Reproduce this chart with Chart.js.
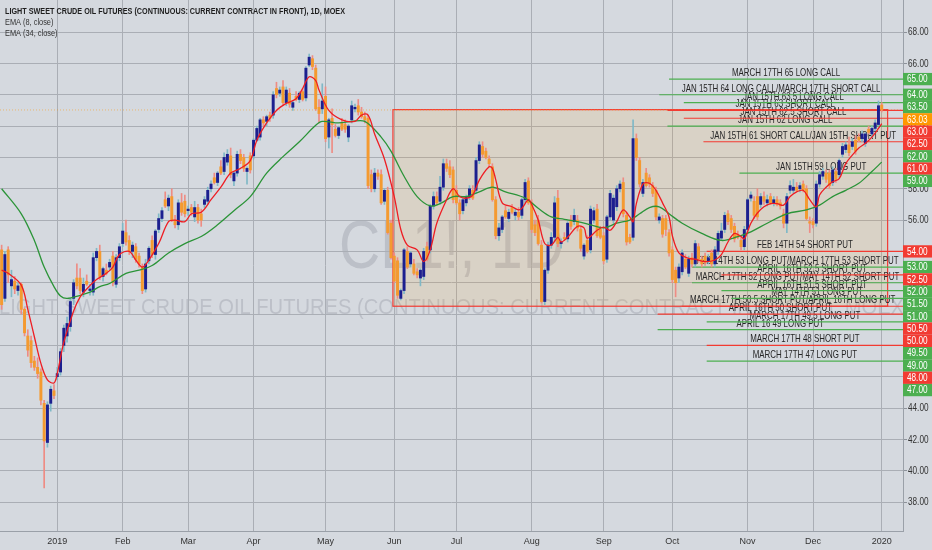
<!DOCTYPE html>
<html lang="en">
<head>
  <meta charset="UTF-8" />
  <title>CL1!, 1D</title>
  <script src="https://cdn.jsdelivr.net/npm/chart.js"></script>
  <style>
    html, body { margin: 0; padding: 0; background: #d5d9df; overflow: hidden; }
    #wrap { width: 932px; height: 550px; }
  </style>
</head>
<body>
<div id="wrap"><canvas id="chart" width="932" height="550"></canvas></div>
<script>
// daily bars, [open, high, low, close]
const candles = [
  [54.1,54.4,50.3,50.6],[51.0,54.0,50.8,53.8],[54.1,54.3,52.0,52.5],[51.8,52.8,51.1,52.2],[52.1,52.4,51.3,51.6],
  [51.5,52.0,51.2,51.8],[51.9,52.0,50.0,50.3],[50.3,50.4,48.6,48.8],[48.6,49.0,47.3,47.7],[48.3,48.6,46.6,46.9],
  [47.0,47.3,46.4,46.6],[46.6,47.2,45.9,46.2],[46.3,46.5,44.2,44.5],[44.3,44.5,38.9,41.9],[41.8,44.4,41.5,44.2],
  [44.3,45.4,43.8,45.2],[45.1,45.5,44.6,44.8],[46.0,46.6,45.8,46.2],[46.3,47.8,46.1,47.6],[48.0,49.3,47.6,49.1],
  [48.6,49.8,48.2,49.4],[49.2,51.0,48.9,50.8],[51.0,52.2,50.6,52.0],[52.3,53.2,51.6,51.8],[52.3,52.9,51.3,51.5],
  [51.4,52.3,51.1,51.9],[52.1,52.5,51.8,51.9],[51.5,51.9,51.2,51.6],[51.4,53.9,51.2,53.6],[53.6,54.2,53.4,54.0],
  [54.0,54.4,52.2,52.4],[52.4,53.0,52.1,52.9],[52.8,53.2,52.5,52.6],[53.0,53.5,52.8,53.3],[53.7,54.0,51.8,52.0],
  [51.9,53.8,51.7,53.6],[53.6,54.5,53.4,54.3],[54.5,55.8,54.3,55.3],[55.2,56.0,54.4,54.6],[54.7,55.0,53.8,54.0],
  [54.0,54.6,53.6,54.4],[54.3,54.5,53.3,53.5],[53.7,53.9,53.0,53.2],[53.0,53.2,51.3,51.5],[51.6,53.5,51.4,53.2],
  [53.4,54.3,53.2,54.2],[54.7,55.0,53.6,53.8],[53.8,55.4,53.5,55.3],[55.4,56.4,55.2,56.1],[56.1,56.8,55.9,56.6],
  [57.3,57.8,56.8,56.9],[56.9,57.6,56.6,57.4],[57.5,58.0,55.9,56.0],[56.0,56.3,55.5,55.7],[55.7,57.3,55.4,57.1],
  [57.1,57.7,56.3,56.5],[57.2,57.6,56.2,56.4],[56.6,56.9,56.3,56.7],[56.8,57.0,56.3,56.5],[56.2,57.2,55.9,56.8],
  [56.8,57.0,55.8,56.0],[56.4,56.7,55.6,56.0],[57.0,57.5,56.8,57.3],[57.2,58.1,57.0,57.9],[58.0,58.5,57.8,58.3],
  [58.7,59.0,58.3,58.4],[58.4,59.1,58.2,59.0],[59.4,59.8,58.9,59.0],[59.1,60.3,58.9,60.0],[59.7,60.5,59.5,60.2],
  [60.1,60.6,58.7,58.9],[58.5,59.1,58.2,59.0],[59.0,60.4,58.8,60.2],[60.2,60.5,59.6,59.8],[60.0,60.2,59.1,59.3],
  [59.1,59.4,58.3,59.3],[60.1,60.3,59.0,59.2],[60.1,61.2,59.9,61.1],[61.1,62.0,61.0,61.85],[61.3,62.5,61.1,62.4],
  [62.4,62.6,62.0,62.2],[62.3,62.7,62.0,62.6],[62.7,62.9,62.3,62.5],[62.7,64.2,62.5,64.0],[64.4,64.8,63.8,64.0],
  [64.1,64.5,63.9,64.3],[64.5,64.9,63.3,63.5],[63.5,64.5,63.3,64.3],[64.1,64.4,63.2,63.4],[63.2,63.6,63.0,63.5],
  [63.9,64.2,63.6,63.7],[63.7,64.2,63.5,64.1],[64.2,64.4,63.6,63.7],[63.8,65.8,63.6,65.7],[65.9,66.6,65.8,66.4],
  [66.3,66.5,65.6,65.8],[65.7,65.9,63.0,63.1],[63.2,63.7,62.2,62.8],[63.1,64.7,62.8,63.6],[63.9,64.5,61.0,61.2],
  [61.3,62.5,60.6,62.4],[62.5,63.1,60.3,62.1],[61.8,62.1,61.3,61.4],[61.4,62.0,61.2,61.9],[62.2,62.5,61.7,61.8],
  [62.1,62.4,61.6,61.8],[61.3,62.1,61.0,62.0],[62.4,63.6,62.2,63.3],[63.1,63.4,62.9,63.2],[63.3,63.7,62.7,62.9],
  [62.9,63.2,62.5,62.6],[62.6,62.9,62.2,62.4],[62.5,62.7,58.0,58.2],[58.9,59.2,57.8,58.0],[58.0,59.3,57.8,59.0],
  [59.0,59.2,58.6,58.8],[58.9,59.2,57.0,57.1],[57.2,58.0,57.0,57.9],[57.9,58.1,55.1,55.2],[55.8,56.0,53.5,53.6],
  [53.7,53.9,52.0,52.1],[53.4,53.6,51.0,51.2],[51.0,51.6,50.9,51.5],[51.5,54.2,51.3,54.1],[54.0,54.3,52.9,53.0],
  [53.2,54.0,53.0,53.9],[53.2,53.5,52.5,52.6],[52.7,52.9,52.3,52.5],[52.3,52.9,51.8,52.8],[52.4,54.2,52.2,54.0],
  [54.3,54.6,53.4,53.5],[54.1,57.0,53.9,56.9],[56.9,57.8,56.7,57.5],[57.5,57.8,57.0,57.1],[57.2,58.8,57.0,58.1],
  [58.1,59.9,57.9,59.6],[59.6,59.9,59.1,59.3],[59.4,59.8,58.7,58.9],[59.2,59.4,57.1,57.3],[57.9,58.2,57.0,57.1],
  [57.1,57.3,56.0,56.4],[56.6,57.4,56.4,57.3],[57.1,57.6,56.9,57.5],[57.5,58.2,57.3,58.0],[57.9,58.2,57.3,57.4],
  [57.9,60.0,57.7,59.8],[59.8,61.0,59.6,60.8],[60.7,61.0,60.0,60.2],[60.4,60.6,59.9,60.0],[59.9,60.1,59.4,59.6],
  [59.4,59.6,57.2,57.3],[57.3,57.5,54.8,55.0],[55.0,55.8,54.7,55.5],[55.4,56.3,55.2,56.2],[56.6,56.9,56.1,56.2],
  [56.1,56.7,55.9,56.5],[56.8,57.0,56.4,56.5],[56.3,56.7,56.0,56.5],[56.5,56.8,56.0,56.2],[56.3,57.4,56.1,57.3],
  [57.3,58.6,57.1,58.4],[58.5,58.7,57.0,57.1],[57.1,57.3,55.2,55.4],[55.7,56.0,55.0,55.2],[56.0,56.3,54.4,54.5],
  [54.4,54.7,50.7,50.8],[50.8,52.9,50.6,52.8],[52.8,54.6,52.6,54.4],[54.4,55.2,54.2,54.9],[54.9,57.5,54.6,57.1],
  [57.4,57.9,54.3,54.5],[54.5,54.8,54.2,54.6],[54.9,55.2,54.7,54.8],[54.8,55.9,54.6,55.8],[56.0,56.3,55.4,55.6],
  [55.9,56.7,55.7,56.3],[56.0,56.3,55.3,55.5],[55.4,55.6,54.0,54.2],[53.7,54.5,53.5,54.4],[54.7,55.0,53.9,54.0],
  [54.1,56.9,53.9,56.7],[56.0,56.8,55.8,56.6],[56.7,57.0,54.9,55.0],[55.4,55.6,54.8,54.9],[55.0,55.2,53.2,53.4],
  [53.5,56.3,53.3,56.2],[56.2,57.9,56.0,57.7],[56.0,57.6,55.8,57.4],[56.85,58.2,56.6,58.0],[58.0,58.5,57.8,58.3],
  [58.4,58.7,56.2,56.4],[56.3,56.5,54.4,54.6],[54.9,55.1,54.5,54.6],[54.9,62.4,54.7,61.2],[61.2,61.5,59.8,60.0],
  [59.8,60.0,58.1,58.3],[57.7,58.6,57.5,58.4],[59.0,59.3,58.1,58.2],[58.7,58.9,58.1,58.3],[58.2,58.4,57.5,57.7],
  [57.9,58.1,56.0,56.2],[56.0,56.4,55.8,56.2],[56.1,56.3,54.9,55.1],[56.1,56.3,55.0,55.4],[55.2,55.4,53.7,53.9],
  [54.1,54.3,52.0,52.2],[52.8,53.0,51.1,52.0],[52.3,53.2,52.0,53.0],[52.7,54.1,52.5,53.9],[53.5,53.8,52.9,53.0],
  [52.6,53.7,52.4,53.5],[53.6,53.9,53.0,53.2],[53.2,54.7,53.0,54.5],[54.3,54.5,53.3,53.5],[53.5,53.7,53.0,53.2],
  [53.7,53.9,53.1,53.3],[53.4,53.8,53.2,53.6],[53.9,54.1,53.0,53.2],[53.2,54.3,53.0,54.1],[54.0,55.3,53.8,55.15],
  [54.85,55.8,54.7,55.3],[55.4,56.5,55.2,56.3],[56.4,56.6,55.7,55.9],[56.1,56.3,55.2,55.4],[55.6,55.8,54.6,54.8],
  [55.1,55.3,54.8,54.9],[54.7,54.9,54.1,54.3],[54.3,55.6,54.1,55.4],[55.4,57.4,55.2,57.3],[57.4,57.8,57.2,57.6],
  [57.2,57.5,56.1,56.3],[57.5,58.0,56.0,56.2],[57.0,57.7,56.8,57.5],[57.5,57.8,57.0,57.2],[57.1,57.6,56.9,57.3],
  [57.5,57.7,57.0,57.1],[57.1,57.5,56.9,57.3],[57.3,57.5,56.9,57.0],[57.1,57.3,56.7,56.9],[56.4,56.7,55.5,55.8],
  [55.8,57.7,55.2,57.5],[57.9,58.5,57.7,58.2],[57.9,58.6,57.7,58.1],[58.1,58.4,57.8,57.9],[58.0,58.4,57.8,58.2],
  [58.3,58.5,57.8,57.9],[58.0,58.2,56.0,56.1],[55.9,56.2,55.2,55.8],[55.9,56.1,55.5,55.7],[55.8,58.5,55.6,58.3],
  [58.3,59.1,58.1,58.9],[58.8,59.3,58.6,59.1],[59.0,59.2,58.4,58.6],[59.0,59.2,58.0,58.2],[58.4,59.4,58.2,59.2],
  [59.1,59.3,58.4,58.6],[58.9,59.9,58.7,59.8],[60.2,60.9,60.0,60.7],[60.5,61.0,60.3,60.8],[60.8,61.3,60.1,60.3],
  [60.7,61.2,60.5,61.0],[61.1,61.4,60.2,60.4],[61.3,61.5,61.0,61.1],[61.2,61.7,61.0,61.5],[60.9,61.6,60.7,61.5],
  [61.8,62.0,61.5,61.6],[61.5,62.0,61.3,61.85],[61.85,62.4,61.7,62.2],[62.1,63.6,62.0,63.3],[63.35,63.5,62.9,63.03]
];

// EMA values, [bar, value]
const ema8 = [
  [0,52.8],[2,52.6],[6,51.85],[8,50.3],[10,48.55],[12,46.85],[14,45.8],[16,45.6],[17,46.2],[19,48.2],
  [22,50.2],[24,51.1],[26,51.6],[29,52.2],[32,52.6],[34,53.0],[36,53.8],[39,54.0],[41,53.45],[43,53.0],
  [45,53.45],[48,54.5],[51,55.9],[53,56.0],[56,55.9],[58,56.4],[61,56.5],[64,57.3],[67,58.1],[70,59.0],
  [73,59.3],[76,59.8],[78,61.1],[81,62.2],[84,63.0],[87,63.45],[90,63.75],[92,64.4],[94,65.15],[96,64.9],
  [97,64.3],[100,63.0],[104,62.4],[108,62.3],[110,62.7],[112,62.7],[114,61.5],[117,59.9],[120,57.5],[122,55.4],
  [124,54.4],[127,54.1],[129,53.35],[131,54.1],[133,55.8],[136,57.3],[138,58.0],[140,57.5],[142,57.4],[144,57.6],
  [146,58.55],[149,59.4],[150,59.3],[151,58.6],[153,57.1],[156,56.85],[158,56.65],[159,56.75],[161,57.3],[162,57.0],
  [164,56.0],[166,54.5],[168,54.4],[170,54.9],[171,54.6],[173,54.9],[176,55.6],[178,55.5],[179,54.85],[182,55.35],
  [184,55.55],[186,55.35],[188,55.9],[190,56.65],[192,56.2],[193,55.9],[194,57.05],[196,58.3],[198,58.35],[200,57.9],
  [202,57.1],[204,56.2],[205,55.0],[207,53.9],[210,53.55],[212,53.5],[215,53.35],[218,53.45],[220,53.8],[222,54.6],
  [224,55.15],[226,54.95],[227,54.8],[229,55.8],[231,56.45],[233,56.85],[235,57.05],[237,57.05],[239,56.95],[241,57.5],
  [243,57.8],[245,57.9],[247,57.3],[249,56.85],[250,57.6],[252,58.1],[254,58.45],[256,58.65],[258,59.6],[260,60.15],
  [262,60.6],[264,60.9],[266,61.3],[268,61.85],[269,62.15]
];
const ema34 = [
  [0,58.0],[6,56.4],[10,54.7],[13,53.0],[16,51.75],[18,51.15],[20,51.0],[24,51.2],[27,51.4],[30,51.75],
  [33,51.95],[38,52.6],[42,52.8],[46,53.1],[51,53.9],[56,54.5],[61,54.95],[66,55.7],[71,56.6],[76,57.5],
  [81,59.0],[86,60.05],[91,61.0],[96,62.05],[98,62.3],[103,62.2],[107,62.3],[111,62.3],[116,61.3],[119,60.4],
  [123,58.8],[127,57.5],[131,56.9],[134,57.05],[138,57.5],[142,57.5],[146,57.8],[150,58.1],[154,57.8],[160,57.4],
  [164,56.75],[168,56.2],[172,56.05],[176,55.9],[180,55.7],[184,55.5],[188,55.8],[192,56.0],[195,56.4],[198,56.8],
  [201,56.85],[204,56.4],[208,55.8],[214,55.15],[220,54.7],[225,54.95],[229,55.25],[234,55.8],[240,56.4],[246,56.65],
  [250,56.95],[254,57.5],[258,57.9],[262,58.35],[266,59.1],[269,59.7]
];

const monthTicks = [17, 37, 57, 77, 99, 120, 139, 162, 184, 205, 228, 248, 269];
const monthLabels = ['2019','Feb','Mar','Apr','May','Jun','Jul','Aug','Sep','Oct','Nov','Dec','2020'];
const priceTicks = [38,40,42,44,46,48,50,52,54,56,58,60,62,64,66,68];
const lastPrice = 63.03;

// option levels drawn as horizontal rays
const optPrices = [65, 64, 63.5, 63, 62.5, 62, 61, 59, 54, 53, 52.5, 52, 51.5, 51, 50.5, 50, 49.5, 49, 48, 47];
const optStarts = [204, 201, 208.5, 203.5, 208.5, 203.5, 214.5, 225.5, 215.5, 211, 220, 211, 220, 223, 208, 200.5, 215.5, 200.5, 215.5, 215.5];
const optColors = ['g','g','g','r','r','g','r','g','r','g','r','g','g','g','r','r','g','g','r','g'];
const optTexts = [
  'MARCH 17TH 65 LONG CALL',
  'JAN 15TH 64 LONG CALL/MARCH 17TH SHORT CALL',
  'JAN 15TH 63.5 LONG CALL',
  'JAN 15TH 63 SHORT CALL',
  'JAN 15TH 62.5 SHORT CALL',
  'JAN 15TH 62 LONG CALL',
  'JAN 15TH 61 SHORT CALL/JAN 15TH SHORT PUT',
  'JAN 15TH 59 LONG PUT',
  'FEB 14TH 54 SHORT PUT',
  'FEB 14TH 53 LONG PUT/MARCH 17TH 53 SHORT PUT',
  'APRIL 16TH 52.5 SHORT PUT',
  'MARCH 17TH 52 LONG PUT/MAY 14TH 52 SHORT PUT',
  'APRIL 16TH 51.5 SHORT PUT',
  'MAY 14TH 51 LONG PUT',
  'MARCH 17TH 50.5 SHORT PUT/APRIL 16TH LONG PUT',
  'APRIL 16TH 50 SHORT PUT',
  'MARCH 17TH 49.5 LONG PUT',
  'APRIL 16 49 LONG PUT',
  'MARCH 17TH 48 SHORT PUT',
  'MARCH 17TH 47 LONG PUT'
];

// the range box (bars and prices)
const rangeBars = [119.6, 270.8];
const rangePrices = [50.5, 63.05];

const UP = '#1c1f8f', DOWN = '#f49a30', UP_WICK = '#7fb8c6', DOWN_WICK = '#ee8c84';
const GREEN = '#4caf50', RED = '#f23b32', ORANGE = '#ff9800';
const GRID = '#aaaeb5';
const SANS = "'Liberation Sans', Arial, sans-serif";
const X_MAX = 275.5;

// condensed text: the screenshot's font is narrower than anything installed
function narrowText(ctx, text, x, y, font, sx, align) {
  ctx.save();
  ctx.font = font;
  ctx.textAlign = align || 'left';
  ctx.translate(x, y);
  ctx.scale(sx, 1);
  ctx.fillText(text, 0, 0);
  ctx.restore();
}

const datasets = [
  {
    type: 'line', label: 'EMA 8', data: ema8.map(p => ({ x: p[0], y: p[1] })),
    borderColor: '#ee1d23', borderWidth: 1.3, pointRadius: 0, tension: 0.35, order: -2
  },
  {
    type: 'line', label: 'EMA 34', data: ema34.map(p => ({ x: p[0], y: p[1] })),
    borderColor: '#2b9438', borderWidth: 1.3, pointRadius: 0, tension: 0.35, order: -1
  },
  {
    type: 'bar', label: 'body', data: candles.map((c, i) => ({ x: i, y: [c[0], c[3]] })),
    backgroundColor: candles.map(c => c[3] >= c[0] ? UP : DOWN),
    barThickness: 2.3, grouped: false, order: 0
  },
  {
    type: 'bar', label: 'wick', data: candles.map((c, i) => ({ x: i, y: [c[2], c[1]] })),
    backgroundColor: candles.map(c => c[3] >= c[0] ? UP_WICK : DOWN_WICK),
    barThickness: 1, grouped: false, order: 1
  }
];
optPrices.forEach((p, k) => {
  datasets.push({
    type: 'line', label: optTexts[k],
    data: [{ x: optStarts[k], y: p }, { x: X_MAX, y: p }],
    borderColor: optColors[k] === 'g' ? GREEN : RED, borderWidth: 1.2, pointRadius: 0, order: 5
  });
});
datasets.push({
  type: 'line', label: 'last',
  data: [{ x: -0.5, y: lastPrice }, { x: X_MAX, y: lastPrice }],
  borderColor: 'rgba(255,152,0,0.5)', borderDash: [1, 2], borderWidth: 1, pointRadius: 0, order: 6
});

const overlay = {
  id: 'overlay',
  beforeDraw(chart) {
    const { ctx, chartArea: a } = chart;
    const cx = (a.left + a.right) / 2;
    ctx.save();
    ctx.fillStyle = 'rgba(60,65,80,0.16)';
    ctx.textBaseline = 'middle';
    ctx.font = '68px ' + SANS;
    const big = 'CL1!, 1D';
    narrowText(ctx, big, cx, 249, '68px ' + SANS, 225 / ctx.measureText(big).width, 'center');
    const wm = 'LIGHT SWEET CRUDE OIL FUTURES (CONTINUOUS: CURRENT CONTRACT IN FRONT), MOEX';
    ctx.font = '22px ' + SANS;
    narrowText(ctx, wm, cx, 308, '22px ' + SANS, 905 / ctx.measureText(wm).width, 'center');
    ctx.restore();
  },
  beforeDatasetsDraw(chart) {
    const { ctx, chartArea: a, scales: { x, y } } = chart;
    ctx.save();
    ctx.beginPath();
    ctx.rect(a.left, a.top, a.right - a.left, a.bottom - a.top);
    ctx.clip();
    // range box
    const x0 = x.getPixelForValue(rangeBars[0]), x1 = x.getPixelForValue(rangeBars[1]);
    const y0 = y.getPixelForValue(rangePrices[1]), y1 = y.getPixelForValue(rangePrices[0]);
    ctx.fillStyle = 'rgba(255,152,0,0.11)';
    ctx.fillRect(x0, y0, x1 - x0, y1 - y0);
    ctx.strokeStyle = RED;
    ctx.lineWidth = 1.2;
    ctx.strokeRect(x0, y0, x1 - x0, y1 - y0);
    // level captions
    ctx.fillStyle = '#262626';
    ctx.textBaseline = 'bottom';
    optPrices.forEach((p, k) => {
      const sx = x.getPixelForValue(optStarts[k]);
      narrowText(ctx, optTexts[k], (sx + a.right) / 2, y.getPixelForValue(p) - 0.5, '11px ' + SANS, 0.72, 'center');
    });
    ctx.restore();
  },
  afterDatasetsDraw(chart) {
    // price scale labels, condensed like the source
    const { ctx, chartArea: a, scales: { y } } = chart;
    ctx.save();
    ctx.fillStyle = '#333';
    ctx.textBaseline = 'middle';
    y.ticks.forEach(t => {
      narrowText(ctx, t.value.toFixed(2), a.right + 5, y.getPixelForValue(t.value) + 0.5, '10px ' + SANS, 0.82);
    });
    ctx.restore();
  },
  afterDraw(chart) {
    const { ctx, chartArea: a, scales: { y } } = chart;
    ctx.save();
    // header
    ctx.textBaseline = 'alphabetic';
    ctx.fillStyle = '#1e1e1e';
    const title = 'LIGHT SWEET CRUDE OIL FUTURES (CONTINUOUS: CURRENT CONTRACT IN FRONT), 1D, MOEX';
    ctx.font = 'bold 9px ' + SANS;
    narrowText(ctx, title, 5, 14, 'bold 9px ' + SANS, 340 / ctx.measureText(title).width);
    ctx.fillStyle = '#333';
    narrowText(ctx, 'EMA (8, close)', 5, 25, '9px ' + SANS, 0.82);
    narrowText(ctx, 'EMA (34, close)', 5, 36, '9px ' + SANS, 0.82);
    // price labels on the axis, pushed apart when they collide
    const labels = optPrices.map((p, k) => ({ p, c: optColors[k] === 'g' ? GREEN : RED }));
    labels.push({ p: lastPrice, c: ORANGE });
    labels.sort((m, n) => n.p - m.p);
    const h = 12.3;
    let prev = -Infinity;
    ctx.textBaseline = 'middle';
    labels.forEach(l => {
      let cy = y.getPixelForValue(l.p);
      if (cy < prev + h) cy = prev + h;
      prev = cy;
      ctx.fillStyle = l.c;
      ctx.fillRect(a.right, cy - h / 2, chart.width - a.right, h);
      ctx.fillStyle = '#ffffff';
      narrowText(ctx, l.p.toFixed(2), a.right + 4, cy + 0.5, '10px ' + SANS, 0.82);
    });
    ctx.restore();
  }
};

new Chart(document.getElementById('chart'), {
  type: 'bar',
  data: { datasets },
  options: {
    responsive: false,
    animation: false,
    layout: { padding: 0 },
    plugins: { legend: { display: false }, tooltip: { enabled: false } },
    scales: {
      x: {
        type: 'linear', min: -0.5, max: X_MAX, offset: false,
        afterBuildTicks: s => { s.ticks = monthTicks.map(v => ({ value: v })); },
        afterFit: s => { s.height = 19; },
        grid: { color: GRID, drawTicks: false, offset: false },
        border: { color: '#9aa0a8' },
        ticks: {
          autoSkip: false, maxRotation: 0, padding: 5, color: '#333',
          font: { family: SANS, size: 9 },
          callback: (v, i) => monthLabels[i]
        }
      },
      y: {
        type: 'linear', position: 'right', min: 36.15, max: 70.05,
        afterBuildTicks: s => { s.ticks = priceTicks.map(v => ({ value: v })); },
        afterFit: s => { s.width = 29; },
        grid: { color: GRID, tickLength: 4, tickColor: '#8d929a' },
        border: { color: '#9aa0a8' },
        ticks: { display: false }
      }
    }
  },
  plugins: [overlay]
});
</script>
</body>
</html>
